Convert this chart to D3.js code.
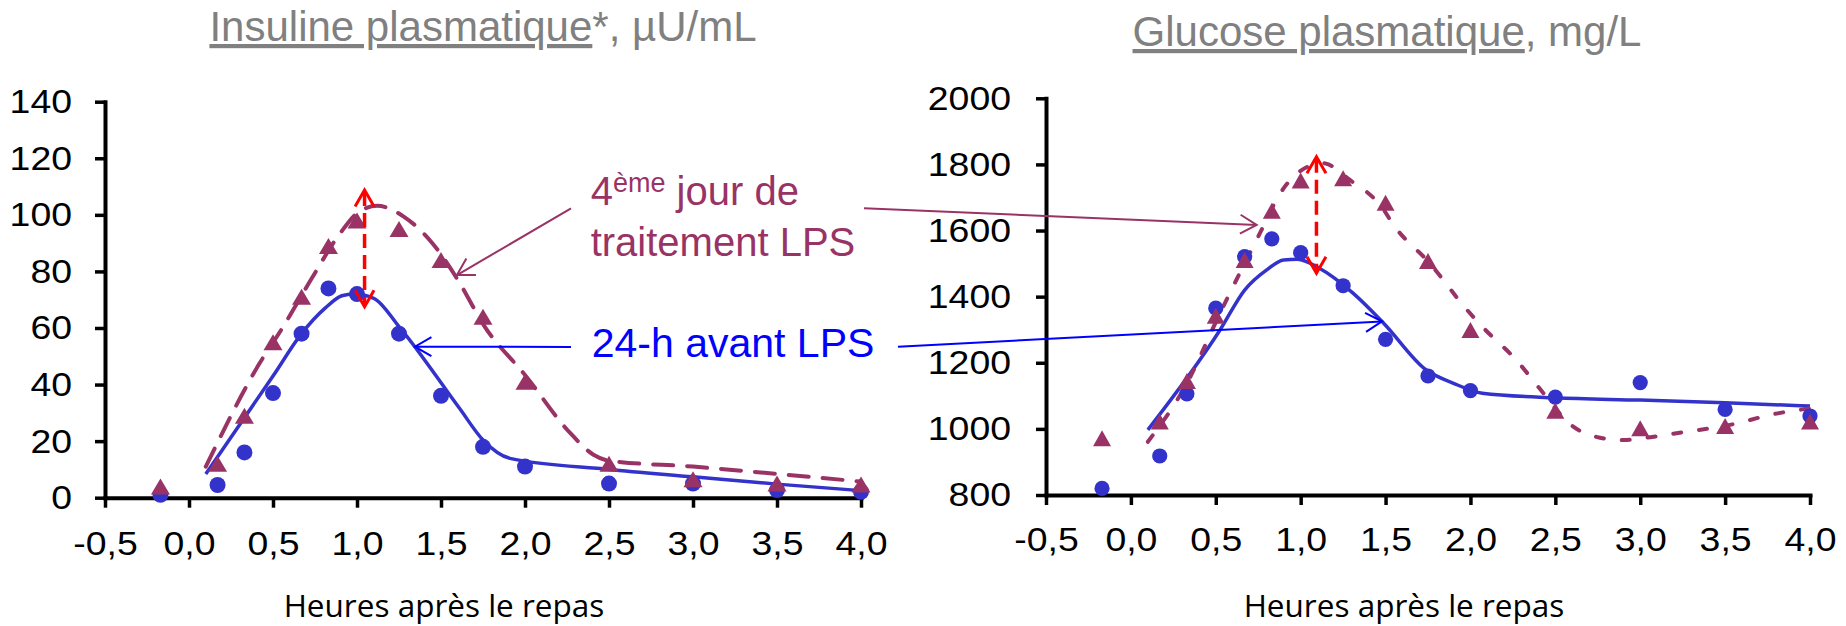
<!DOCTYPE html>
<html><head><meta charset="utf-8">
<script src="https://cdn.jsdelivr.net/npm/d3@7"></script>
<style>
body{margin:0;background:#fff;}
</style></head>
<body><svg id="chart" width="1846" height="626" style="font-family:'Liberation Sans',Arial,sans-serif"></svg>
<script>
// ---------------- DATA ----------------
const xTicks = [-0.5, 0, 0.5, 1, 1.5, 2, 2.5, 3, 3.5, 4];
const insulinTicks = [0, 20, 40, 60, 80, 100, 120, 140];
const glucoseTicks = [800, 1000, 1200, 1400, 1600, 1800, 2000];

const times = [-0.17, 0.17, 0.33, 0.5, 0.67, 0.83, 1.0, 1.25, 1.5, 1.75, 2.0, 2.5, 3.0, 3.5, 4.0];

// Insuline plasmatique (µU/mL)
const insulinBefore = [1, 4.5, 16, 37, 58, 74, 72, 58, 36, 18, 11, 5, 5, 2.7, 2.1];
const insulinLPS    = [4, 12, 29, 55, 71, 89, 98, 95, 84, 64, 41, 12, 6.5, 5, 4.7];
const insulinFitBeforeX = [0.1, 0.5, 0.67, 0.81, 0.91, 0.98, 1.1, 1.25, 1.61, 1.75, 1.91, 2.5, 3.0, 3.5, 4.0];
const insulinFitBeforeY = [8.4, 43, 58, 67, 71.4, 72, 70.5, 60.5, 31.6, 20.4, 13.9, 10, 7.4, 4.8, 2.5];
const insulinFitLPSX = [0.1, 0.42, 0.56, 0.73, 0.9, 1.01, 1.12, 1.28, 1.45, 1.6, 1.76, 2.0, 2.27, 2.41, 2.5, 3.0, 3.5, 4.0];
const insulinFitLPSY = [11, 47.5, 60.4, 77.5, 93.5, 101, 103.2, 99.3, 89.9, 77, 60.5, 43.4, 22.8, 15.1, 13.1, 11, 8.4, 5.7];

// Glucose plasmatique (mg/L)
const glucoseBefore = [820, 918, 1106, 1365, 1521, 1575, 1533, 1433, 1271, 1160, 1116, 1096, 1140, 1059, 1039];
const glucoseLPS    = [972, 1022, 1145, 1342, 1511, 1660, 1751, 1758, 1684, 1508, 1299, 1055, 1002, 1009, 1022];
const glucoseFitBeforeX = [0.1, 0.525, 0.67, 0.8, 0.9, 0.98, 1.11, 1.31, 1.49, 1.74, 1.9, 2.07, 2.5, 3.0, 3.5, 4.0];
const glucoseFitBeforeY = [997, 1299, 1420, 1481, 1511, 1513, 1486, 1410, 1319, 1178, 1138, 1108, 1094, 1087, 1079, 1069];
const glucoseFitLPSX = [0.1, 0.33, 0.525, 0.76, 0.88, 0.98, 1.13, 1.29, 1.49, 1.54, 1.76, 1.98, 2.07, 2.27, 2.43, 2.58, 2.74, 2.9, 3.06, 3.25, 3.5, 3.81, 4.0];
const glucoseFitLPSY = [961, 1138, 1350, 1592, 1713, 1773, 1804, 1753, 1662, 1622, 1501, 1360, 1309, 1208, 1108, 1017, 976, 966, 975, 990, 1009, 1047, 1062];

// Red double arrows (time, high value, low value)
const insulinDiff = [1.045, 108.8, 67.5];
const glucoseDiff = [1.093, 1823, 1471];

const titles = ["Insuline plasmatique", "Glucose plasmatique"];
const titleSuffix = ["*, µU/mL", ", mg/L"];
const xLabel = "Heures après le repas";
const labelLPS = ["4", "ème", " jour de", "traitement LPS"];
const labelBefore = "24-h avant LPS";

// ---------------- STYLE ----------------
const BLUE = "#3333cc", PURPLE = "#993366", RED = "#ff0000", TXTBLUE = "#0000ff", GREY = "#808080";
const svg = d3.select("#chart");
const loc = d3.formatLocale({decimal: ",", thousands: "", grouping: [3], currency: ["", ""], minus: "-"});
const fmtX = loc.format(".1f");
const SX = 1.1; // horizontal stretch of tick labels

function triPath(w, h) {
  return d3.line()([[0, -h / 2], [w / 2, h / 2], [-w / 2, h / 2]]) + "Z";
}

function makeChart(o) {
  const g = svg.append("g");
  const x = d3.scaleLinear().domain([-0.5, 4]).range(o.xr);
  const y = d3.scaleLinear().domain(o.yd).range(o.yr);

  const yAxis = g.append("g").attr("transform", `translate(${o.xr[0]},0)`)
    .call(d3.axisLeft(y).tickValues(o.yTicks).tickSize(10).tickSizeOuter(0).tickPadding(o.yPad).tickFormat(d3.format("d")));
  const xAxis = g.append("g").attr("transform", `translate(0,${o.yr[0]})`)
    .call(d3.axisBottom(x).tickValues(xTicks).tickSize(10).tickSizeOuter(0).tickPadding(o.xPad).tickFormat(fmtX));
  [yAxis, xAxis].forEach(a => {
    a.attr("font-family", null).attr("font-size", null);
    a.select(".domain").attr("stroke", "#000").attr("stroke-width", 4).attr("stroke-linecap", "square");
    a.selectAll(".tick line").attr("stroke", "#000").attr("stroke-width", 3.5);
    a.selectAll(".tick text").attr("fill", "#000").style("font-size", "34px");
  });
  yAxis.selectAll(".tick text").attr("x", -(10 + o.yPad) / SX).attr("transform", `scale(${SX},1)`);
  xAxis.selectAll(".tick text").attr("transform", `scale(${SX},1)`);

  const line = d3.line().x(d => x(d[0])).y(d => y(d[1])).curve(d3.curveMonotoneX);
  g.append("path").datum(o.fitBX.map((t, i) => [t, o.fitBY[i]]))
    .attr("d", line).attr("fill", "none").attr("stroke", BLUE).attr("stroke-width", 3.5);
  g.append("path").datum(o.fitLX.map((t, i) => [t, o.fitLY[i]]))
    .attr("d", line).attr("fill", "none").attr("stroke", PURPLE).attr("stroke-width", 4)
    .attr("stroke-dasharray", o.dash).attr("stroke-linecap", "round");

  g.selectAll("circle.b").data(times.map((t, i) => [t, o.before[i]])).join("circle")
    .attr("cx", d => x(d[0])).attr("cy", d => y(d[1])).attr("r", o.r).attr("fill", BLUE);
  g.selectAll("path.t").data(times.map((t, i) => [t, o.lps[i]])).join("path")
    .attr("transform", d => `translate(${x(d[0])},${y(d[1])})`).attr("d", triPath(o.triW, o.triH)).attr("fill", PURPLE);

  const [dt, hi, lo] = o.diff;
  const ax = x(dt), ay1 = y(hi), ay2 = y(lo);
  g.append("line").attr("x1", ax).attr("x2", ax).attr("y1", ay1 + 2).attr("y2", ay2 - 2)
    .attr("stroke", RED).attr("stroke-width", 3.5).attr("stroke-dasharray", "14,7");
  arrowHead(g, ax, ay2 - 20, ax, ay2, RED, 3);
  arrowHead(g, ax, ay1 + 20, ax, ay1, RED, 3);

  const t = g.append("text").attr("x", o.titleX).attr("y", o.titleY)
    .attr("text-anchor", "middle").style("font-size", "42px").attr("fill", GREY);
  t.append("tspan").style("text-decoration", "underline").text(o.title);
  t.append("tspan").text(o.suffix);

  g.append("text").attr("x", o.xLabelX).attr("y", 617).attr("text-anchor", "middle")
    .style("font-family", "'Open Sans', Lato, sans-serif").style("font-size", "31.5px").attr("fill", "#000").text(xLabel);
  return {x, y};
}

function arrowHead(g, x0, y0, x1, y1, color, w) {
  const ang = Math.atan2(y1 - y0, x1 - x0), L = 19, a = Math.PI / 6;
  const p = [[x1 - L * Math.cos(ang - a), y1 - L * Math.sin(ang - a)], [x1, y1],
             [x1 - L * Math.cos(ang + a), y1 - L * Math.sin(ang + a)]];
  g.append("path").attr("d", d3.line()(p)).attr("fill", "none").attr("stroke", color)
    .attr("stroke-width", w).attr("stroke-linejoin", "miter");
}
function arrow(x0, y0, x1, y1, color) {
  svg.append("line").attr("x1", x0).attr("y1", y0).attr("x2", x1).attr("y2", y1)
    .attr("stroke", color).attr("stroke-width", 2);
  arrowHead(svg, x0, y0, x1, y1, color, 2);
}

const L = makeChart({xr: [105, 861], yr: [497.7, 101.7], yd: [0, 140], yTicks: insulinTicks, yPad: 23, xPad: 23,
  before: insulinBefore, lps: insulinLPS, fitBX: insulinFitBeforeX, fitBY: insulinFitBeforeY,
  fitLX: insulinFitLPSX, fitLY: insulinFitLPSY, dash: "20,14", r: 8, triW: 19, triH: 16, diff: insulinDiff,
  title: titles[0], suffix: titleSuffix[0], titleX: 483, titleY: 41, xLabelX: 444});
const R = makeChart({xr: [1046, 1810], yr: [495, 98.3], yd: [800, 2000], yTicks: glucoseTicks, yPad: 25, xPad: 22,
  before: glucoseBefore, lps: glucoseLPS, fitBX: glucoseFitBeforeX, fitBY: glucoseFitBeforeY,
  fitLX: glucoseFitLPSX, fitLY: glucoseFitLPSY, dash: "8,18", r: 7.6, triW: 18, triH: 16, diff: glucoseDiff,
  title: titles[1], suffix: titleSuffix[1], titleX: 1387, titleY: 46, xLabelX: 1404});

const t1 = svg.append("text").attr("x", L.x(2.391)).attr("y", L.y(103.5)).style("font-size", "40px").attr("fill", PURPLE);
t1.append("tspan").text(labelLPS[0]);
t1.append("tspan").style("font-size", "27px").attr("dy", -13).text(labelLPS[1]);
t1.append("tspan").attr("dy", 13).text(labelLPS[2]);
svg.append("text").attr("x", L.x(2.391)).attr("y", L.y(85.4)).style("font-size", "40px").attr("fill", PURPLE).text(labelLPS[3]);
svg.append("text").attr("x", L.x(2.397)).attr("y", L.y(49.8)).style("font-size", "41px").attr("fill", TXTBLUE).text(labelBefore);

arrow(L.x(2.274), L.y(102.3), L.x(1.595), L.y(78.7), PURPLE);
arrow(L.x(4.018), L.y(102.3), R.x(0.741), R.y(1617), PURPLE);
arrow(L.x(2.274), L.y(53.3), L.x(1.345), L.y(53.4), TXTBLUE);
arrow(L.x(4.22), L.y(53.4), R.x(1.479), R.y(1325), TXTBLUE);
</script></body></html>
